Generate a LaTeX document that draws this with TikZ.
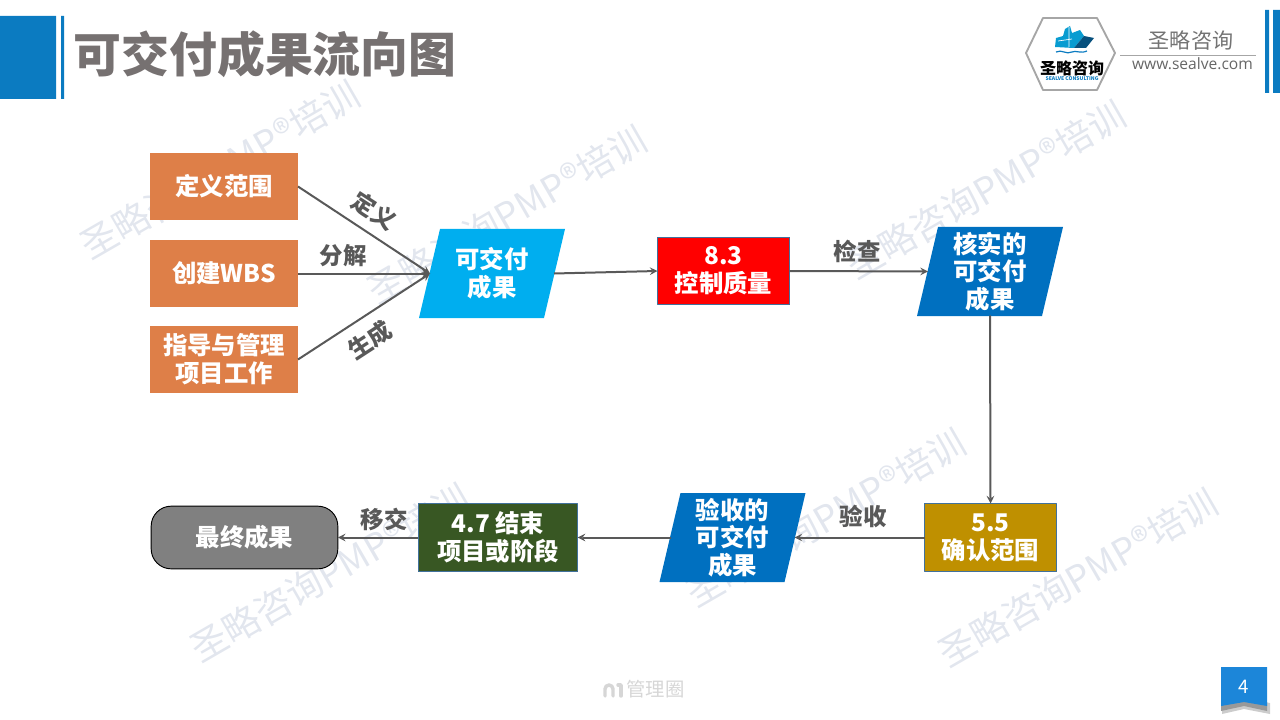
\documentclass[tikz,border=0pt]{standalone}
\usepackage{fontspec}
\setmainfont{Noto Sans CJK SC}
\newfontfamily\urlfont{Open Sans}
\definecolor{hdblue}{HTML}{0B7BC1}
\definecolor{tagblue}{HTML}{1C86D9}
\definecolor{orangebox}{HTML}{DE7F48}
\definecolor{goldbox}{HTML}{BF9000}
\definecolor{greenbox}{HTML}{385723}
\definecolor{titlegray}{HTML}{767171}
\definecolor{linegray}{HTML}{595959}
\definecolor{wmgray}{HTML}{E2E6EE}
\definecolor{edgeteal}{HTML}{41719C}
\tikzset{
boxtext/.style={align=center, text=white, outer sep=0pt, inner sep=0pt, font=\bfseries\fontsize{18.3}{20.8}\selectfont},
linktext/.style={text=linegray, inner sep=0pt, font=\bfseries\fontsize{17.6}{20}\selectfont},
watermark/.style={text=wmgray, rotate=30, inner sep=0pt, font=\fontsize{27.5}{28}\selectfont},
link/.style={draw=linegray, line width=1.5pt, ->}
}
\begin{document}
\begin{tikzpicture}[x=.75pt, y=-.75pt, >=stealth, line join=round]
\useasboundingbox (0,0) rectangle (1280,720);
\foreach \x/\y/\k in {220/170/a,507/215/b,986/190/c,330/573/d,826/518/e,1078/578/f}
\node[watermark] (wm\k) at (\x,\y) {圣略咨询PMP®培训};
% header
\fill[hdblue] (0,16) rectangle (56,99) (61,16) rectangle (64,99);
\fill[hdblue] (1265,10) rectangle (1269,93) (1273,10) rectangle (1280,93);
\node[text=titlegray, inner sep=0pt, font=\bfseries\fontsize{35.9}{37}\selectfont] (title) at (265,54) {可交付成果流向图};
% logo
\draw[draw=black!35, line width=1.4pt] (1026,53)--(1043,18)--(1097,18)--(1115,53)--(1097,90)--(1043,90)--cycle;
\fill[hdblue!75!cyan] (1055,47)--(1056,38)--(1063,36)--(1065,29)--(1070,26)--(1072,33)--(1080,30)--(1084,36)--(1074,48)--cycle;
\fill[hdblue!65!black] (1074,48)--(1084,36)--(1094,38)--(1086,48)--cycle;
\draw[white, line width=.5pt] (1069,27)--(1069,47) (1058,41)--(1072,39);
\draw[hdblue, line width=.9pt] (1056,52) .. controls (1062,49) and (1066,55) .. (1072,52) .. controls (1076,50) and (1080,54) .. (1087,51);
\node[inner sep=0pt, font=\bfseries\fontsize{12}{12}\selectfont] (logoname) at (1072,68) {圣略咨询};
\node[text=hdblue, inner sep=0pt, font=\bfseries\fontsize{3.8}{4}\selectfont] (logosub) at (1072,78.5) {SEALVE CONSULTING};
\node[text=black!55, inner sep=0pt, font=\fontsize{15.8}{16}\selectfont] (brand) at (1191,41) {圣略咨询};
\draw[black!35, line width=.6pt] (1120,55)--(1256,55);
\node[text=black!60, inner sep=0pt, font=\urlfont\fontsize{11.7}{12}\selectfont] (url) at (1192.5,64) {www.sealve.com};
% orange boxes
\foreach \n/\y/\t in {scope/186.5/定义范围,wbs/273.5/创建WBS,direct/359.5/{指导与管理\\项目工作}}
\node[boxtext, fill=orangebox, minimum width=111pt, minimum height=50pt] (\n) at (224,\y) {\t};
% slanted boxes
\foreach \n/\x/\y/\c/\t in {deliv/492/273.5/00AEEF/{可交付\\成果},verif/990/271.5/0070C0/{核实的\\可交付\\成果},accept/732.5/537.5/0070C0/{验收的\\可交付\\成果}}{
\definecolor{para}{HTML}{\c}
\fill[para] (\x-52,\y-44.5)--(\x+73,\y-44.5)--(\x+52,\y+44.5)--(\x-73,\y+44.5)--cycle;
\node[boxtext, minimum width=93pt, minimum height=66pt] (\n) at (\x,\y) {\t};
}
% process boxes
\node[boxtext, fill=red, draw=edgeteal, line width=.6pt, minimum width=99pt, minimum height=50.5pt] (qc) at (723.5,271) {8.3\\控制质量};
\node[boxtext, fill=goldbox, draw=edgeteal, line width=.6pt, minimum width=99pt, minimum height=51pt] (vs) at (990.5,537.5) {5.5\\确认范围};
\node[boxtext, fill=greenbox, draw=edgeteal, line width=.6pt, minimum width=119.5pt, minimum height=51pt] (close) at (498,537.5) {4.7 结束\\项目或阶段};
\node[boxtext, fill=black!50, draw=black, line width=.7pt, rounded corners=15pt, minimum width=140pt, minimum height=47pt] (final) at (244.5,537.5) {最终成果};
% connectors
\foreach \a/\b in {scope/deliv,wbs/deliv,direct/deliv,deliv/qc}
\draw[link] (\a.east)--(\b.west);
\draw[link] (qc.east)--(verif.west);
\draw[link] (verif.south)--(vs.north);
\foreach \a/\b in {vs/accept,accept/close,close/final}
\draw[link] (\a.west)--(\b.east);
% link labels
\node[linktext, rotate=-33] (ldef) at (374,211) {定义};
\node[linktext] (lsplit) at (343,256) {分解};
\node[linktext, rotate=33] (lgen) at (370,340) {生成};
\node[linktext] (lcheck) at (857,251) {检查};
\node[linktext] (laccept) at (863,516) {验收};
\node[linktext] (lhand) at (384,519) {移交};
% footer
\node[text=black!16, inner sep=0pt, font=\fontsize{14.5}{15}\selectfont] (mark) at (655.5,689) {管理圈};
\draw[black!16, line width=2.6pt, line cap=round] (605,696)--(605,689) arc (180:360:4)--(613,696);
\draw[black!16, line width=2.6pt, line cap=round] (618,685)--(621,685)--(621,696);
\fill[black!20] (1222,703)--(1244,698)--(1270,703)--(1270,714)--(1244,709)--(1222,714)--cycle;
\fill[black!40] (1221,702)--(1244,697)--(1267,702)--(1267,711)--(1244,706)--(1221,711)--cycle;
\fill[tagblue] (1221,667)--(1267,667)--(1267,706)--(1244,702)--(1221,706)--cycle;
\node[text=white, inner sep=0pt, font=\fontsize{14}{14}\selectfont] (pageno) at (1244,687) {4};
\end{tikzpicture}
\end{document}
